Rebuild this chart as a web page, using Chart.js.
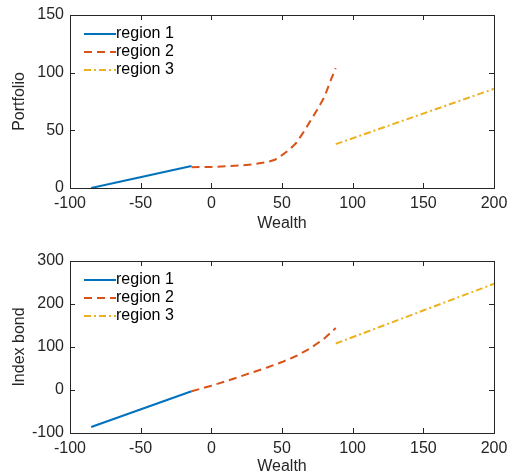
<!DOCTYPE html>
<html>
<head>
<meta charset="utf-8">
<script src="https://cdn.jsdelivr.net/npm/chart.js@4.4.1/dist/chart.umd.min.js"></script>
<style>
  html, body { margin: 0; padding: 0; background: #fff; }
  .box { width: 511px; height: 238px; position: relative; }
</style>
</head>
<body>
<div class="box"><canvas id="top"></canvas></div>
<div class="box"><canvas id="bottom"></canvas></div>
<script>
const seriesNames = ["region 1", "region 2", "region 3"];
const xTicks = [-100, -50, 0, 50, 100, 150, 200];

// Portfolio
const pfWealth1 = [-85, -14];
const pfValue1 = [0, 19];
const pfWealth2 = [-14, 0, 10, 20, 30, 40, 45, 50, 55, 60, 65, 70, 75, 80, 85, 88];
const pfValue2 = [18, 18.3, 18.8, 19.5, 20.6, 22.6, 24.5, 28.5, 33, 39, 48, 58, 68, 79, 95, 104];
const pfWealth3 = [88, 200];
const pfValue3 = [38, 86];
const pfYTicks = [0, 50, 100, 150];

// Index bond
const ibWealth1 = [-85, -14];
const ibValue1 = [-86, -3];
const ibWealth2 = [-14, 0, 10, 20, 30, 40, 50, 60, 70, 80, 88];
const ibValue2 = [-3, 10, 20, 31, 42, 53, 65, 79, 97, 120, 144];
const ibWealth3 = [88, 200];
const ibValue3 = [108, 247];
const ibYTicks = [-100, 0, 100, 200, 300];

const colors = ["#0072BD", "#D95319", "#EDB120"];
const dashes = [[], [8, 5], [7, 3, 2, 3]];
const FONT = "'Liberation Sans', Arial, Helvetica, sans-serif";

function pts(xs, ys) { return xs.map((x, i) => ({ x: x, y: ys[i] })); }

const framePlugin = {
  id: "frame",
  afterDatasetsDraw(chart) {
    const ctx = chart.ctx;
    const a = chart.chartArea;
    const xs = chart.scales.x, ys = chart.scales.y;
    ctx.save();
    ctx.strokeStyle = "#262626";
    ctx.lineWidth = 1;
    ctx.setLineDash([]);
    ctx.strokeRect(Math.round(a.left) + 0.5, Math.round(a.top) + 0.5,
      Math.round(a.right - a.left), Math.round(a.bottom - a.top));
    const tl = 5;
    ctx.beginPath();
    xs.ticks.forEach(t => {
      const p = Math.round(xs.getPixelForValue(t.value)) + 0.5;
      ctx.moveTo(p, a.bottom); ctx.lineTo(p, a.bottom - tl);
      ctx.moveTo(p, a.top); ctx.lineTo(p, a.top + tl);
    });
    ys.ticks.forEach(t => {
      const p = Math.round(ys.getPixelForValue(t.value)) + 0.5;
      ctx.moveTo(a.left, p); ctx.lineTo(a.left + tl, p);
      ctx.moveTo(a.right, p); ctx.lineTo(a.right - tl, p);
    });
    ctx.stroke();

    // legend, top-left inside the axes
    ctx.font = "16px " + FONT;
    ctx.textBaseline = "middle";
    ctx.fillStyle = "#000";
    chart.data.datasets.forEach((ds, i) => {
      const y = a.top + 19 + i * 18;
      ctx.strokeStyle = ds.borderColor;
      ctx.lineWidth = 2;
      ctx.setLineDash(ds.borderDash || []);
      ctx.beginPath();
      ctx.moveTo(a.left + 14, y); ctx.lineTo(a.left + 46, y);
      ctx.stroke();
      ctx.fillText(ds.label, a.left + 46, y);
    });
    ctx.restore();
  }
};

function makeChart(id, sets, yTicks, yLabel, padTop, xHeight, xTitlePad) {
  new Chart(document.getElementById(id), {
    type: "scatter",
    data: {
      datasets: sets.map((s, i) => ({
        label: seriesNames[i],
        data: pts(s[0], s[1]),
        showLine: true,
        borderColor: colors[i],
        backgroundColor: colors[i],
        borderWidth: 2,
        borderDash: dashes[i],
        pointRadius: 0,
        tension: 0
      }))
    },
    options: {
      responsive: true,
      maintainAspectRatio: false,
      animation: false,
      layout: { padding: { left: 0, right: 17, top: padTop, bottom: 0 } },
      plugins: { legend: { display: false }, tooltip: { enabled: false } },
      scales: {
        x: {
          type: "linear",
          min: xTicks[0], max: xTicks[xTicks.length - 1],
          afterBuildTicks: sc => { sc.ticks = xTicks.map(v => ({ value: v })); },
          grid: { display: false, drawTicks: false },
          border: { display: false },
          ticks: { color: "#262626", font: { size: 16, family: FONT }, padding: 6, maxRotation: 0 },
          title: { display: true, text: "Wealth", color: "#262626", font: { size: 16, family: FONT }, padding: { top: 0, bottom: xTitlePad } },
          afterFit: sc => { sc.height = xHeight; sc.paddingLeft = 0; sc.paddingRight = 0; }
        },
        y: {
          type: "linear",
          min: yTicks[0], max: yTicks[yTicks.length - 1],
          afterBuildTicks: sc => { sc.ticks = yTicks.map(v => ({ value: v })); },
          grid: { display: false, drawTicks: false },
          border: { display: false },
          ticks: { color: "#262626", font: { size: 16, family: FONT }, padding: 6 },
          title: { display: true, text: yLabel, color: "#262626", font: { size: 16, family: FONT }, padding: { top: 10, bottom: 0 } },
          afterFit: sc => { sc.width = 70; sc.paddingTop = 0; sc.paddingBottom = 0; }
        }
      }
    },
    plugins: [framePlugin]
  });
}

makeChart("top", [[pfWealth1, pfValue1], [pfWealth2, pfValue2], [pfWealth3, pfValue3]],
  pfYTicks, "Portfolio", 15, 50, 5);
makeChart("bottom", [[ibWealth1, ibValue1], [ibWealth2, ibValue2], [ibWealth3, ibValue3]],
  ibYTicks, "Index bond", 23, 43, 0);
</script>
</body>
</html>
